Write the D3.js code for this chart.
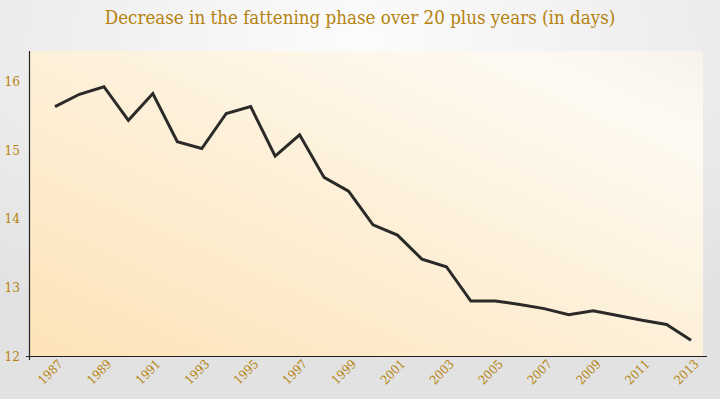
<!DOCTYPE html>
<html>
<head>
<meta charset="utf-8">
<script src="https://cdn.jsdelivr.net/npm/d3@7"></script>
<style>
  body { margin: 0; }
  svg text { font-family: "DejaVu Serif Condensed", "DejaVu Serif", serif; }
</style>
</head>
<body>
<div id="chart"></div>
<script>
// chart data
const years = d3.range(1987, 2014);
const days = [15.63, 15.81, 15.92, 15.43, 15.82, 15.12, 15.02, 15.53, 15.63, 14.91,
              15.22, 14.60, 14.40, 13.91, 13.76, 13.41, 13.30, 12.80, 12.80, 12.75,
              12.69, 12.60, 12.66, 12.59, 12.52, 12.46, 12.23];
const yTicks = [12, 13, 14, 15, 16];
const xLabels = years.filter(y => y % 2 === 1);
const title = "Decrease in the fattening phase over 20 plus years (in days)";

const width = 720, height = 399;
const margin = { top: 51, right: 13, bottom: 43, left: 30 };
const innerW = width - margin.left - margin.right;
const innerH = height - margin.top - margin.bottom;
const labelColor = "#b5820d";

const svg = d3.select("#chart").append("svg")
  .attr("width", width)
  .attr("height", height);

const defs = svg.append("defs");
// page background
const bg = defs.append("radialGradient").attr("id", "pagebg")
  .attr("cx", "50%").attr("cy", "10%").attr("r", "80%");
bg.append("stop").attr("offset", "0%").attr("stop-color", "#fcfcfc");
bg.append("stop").attr("offset", "100%").attr("stop-color", "#e2e2e2");
// plot background
const pg = defs.append("linearGradient").attr("id", "plotbg")
  .attr("x1", "0%").attr("y1", "100%").attr("x2", "100%").attr("y2", "0%");
pg.append("stop").attr("offset", "0%").attr("stop-color", "#fde3b7");
pg.append("stop").attr("offset", "45%").attr("stop-color", "#fdefd6");
pg.append("stop").attr("offset", "85%").attr("stop-color", "#fefaf2");
pg.append("stop").attr("offset", "100%").attr("stop-color", "#f8f3ea");

svg.append("rect").attr("width", width).attr("height", height).attr("fill", "url(#pagebg)");

svg.append("text")
  .attr("x", width / 2).attr("y", 24)
  .attr("text-anchor", "middle")
  .attr("font-size", 18.6)
  .attr("fill", labelColor)
  .text(title);

const g = svg.append("g").attr("transform", `translate(${margin.left},${margin.top})`);

g.append("rect").attr("width", innerW - 4).attr("height", innerH).attr("fill", "url(#plotbg)");

const x = d3.scalePoint().domain(years).range([25, 661]);
const y = d3.scaleLinear().domain([12, 16.44]).range([innerH, 0]);

// y axis
const yAxis = g.append("g")
  .call(d3.axisLeft(y).tickValues(yTicks).tickSize(0).tickPadding(10).tickFormat(d3.format("d")));
yAxis.select(".domain").remove();
yAxis.selectAll("text").attr("fill", labelColor).attr("font-size", 13.5)
  .attr("font-family", "\"DejaVu Serif Condensed\", serif");

// x axis
const xAxis = g.append("g").attr("transform", `translate(0,${innerH})`)
  .call(d3.axisBottom(x).tickValues(xLabels).tickSize(0).tickPadding(0));
xAxis.select(".domain").remove();
xAxis.selectAll("text")
  .attr("fill", labelColor).attr("font-size", 12.5)
  .attr("font-family", "\"DejaVu Serif Condensed\", serif")
  .attr("text-anchor", "end")
  .attr("dy", 0)
  .attr("transform", "translate(8,9) rotate(-45)");

// axis lines
g.append("line").attr("x1", -0.5).attr("x2", -0.5).attr("y1", 0).attr("y2", innerH + 4)
  .attr("stroke", "#222").attr("stroke-width", 1.2);
g.append("line").attr("x1", -4).attr("x2", innerW).attr("y1", innerH + 0.5).attr("y2", innerH + 0.5)
  .attr("stroke", "#222").attr("stroke-width", 1.2);

// series line
g.append("path")
  .datum(days)
  .attr("fill", "none")
  .attr("stroke", "#2b2a28")
  .attr("stroke-width", 3)
  .attr("stroke-linejoin", "miter")
  .attr("d", d3.line().x((d, i) => x(years[i])).y(d => y(d)));
</script>
</body>
</html>
